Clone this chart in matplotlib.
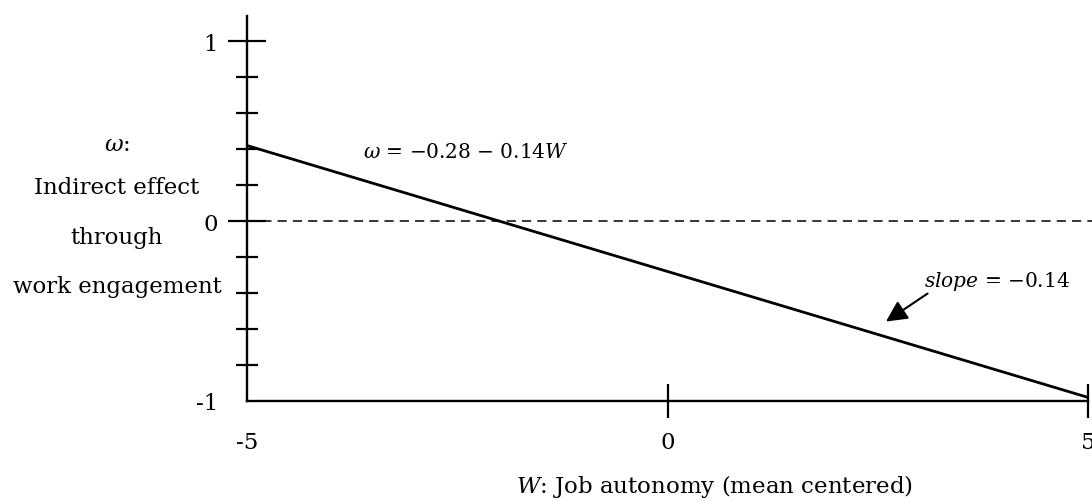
import matplotlib.pyplot as plt
import numpy as np

# simple slope data: omega = a + b*W
w_range = [-5, 5]
intercept = -0.28
slope = -0.14
omega = [intercept + slope * w for w in w_range]

y_major = [-1, 0, 1]
y_major_labels = ['-1', '0', '1']
y_minor = [-0.8, -0.6, -0.4, -0.2, 0.2, 0.4, 0.6, 0.8]
x_ticks = [-5, 0, 5]
x_tick_labels = ['-5', '0', '5']

arrow_head = (2.57, -0.567)
arrow_tail = (3.12, -0.394)

plt.rcParams['font.family'] = 'DejaVu Serif'
plt.rcParams['mathtext.fontset'] = 'dejavuserif'
fs = 16.5
fs_note = 14.5

fig = plt.figure(figsize=(10.92, 5.02), dpi=100)
ax = fig.add_axes([247 / 1092, 1 - 402 / 502, (1088 - 247) / 1092, 385 / 502])
ax.set_xlim(-5, 5)
ax.set_ylim(-1, 1.14)

ax.plot(w_range, omega, color='black', lw=2.0)
ax.plot([-5, 5.05], [0, 0], color='black', lw=1.1, ls=(0, (6, 4)), clip_on=False)

for s in ['top', 'right']:
    ax.spines[s].set_visible(False)
for s in ['left', 'bottom']:
    ax.spines[s].set_linewidth(1.7)

ax.set_yticks(y_major)
ax.set_yticklabels(y_major_labels, fontsize=fs)
ax.set_yticks(y_minor, minor=True)
ax.set_xticks(x_ticks)
ax.set_xticklabels(x_tick_labels, fontsize=fs)
ax.tick_params(axis='y', which='major', direction='inout', length=28, width=1.6, pad=7)
ax.tick_params(axis='y', which='minor', direction='inout', length=16, width=1.6)
ax.tick_params(axis='x', which='major', direction='inout', length=25, width=1.6, pad=9)
ax.xaxis.get_major_ticks()[0].tick1line.set_visible(False)
ax.yaxis.get_major_ticks()[0].tick1line.set_visible(False)

ax.text(-3.62, 0.385, '$\\omega$ = \u22120.28 \u2212 0.14$W$', fontsize=fs_note, va='center', ha='left')
ax.text(3.05, -0.33, '$slope$ = \u22120.14', fontsize=fs_note, va='center', ha='left')
ax.annotate('', xy=arrow_head, xytext=arrow_tail,
            arrowprops=dict(arrowstyle='-|>', color='black', lw=1.5, mutation_scale=32))

# y axis label, centered lines
for txt, ypix in [('$\\omega$:', 145), ('Indirect effect', 188), ('through', 238), ('work engagement', 287)]:
    fig.text(117 / 1092, 1 - ypix / 502, txt, fontsize=fs, ha='center', va='center')

fig.text(714 / 1092, 1 - 487 / 502, '$W$: Job autonomy (mean centered)', fontsize=fs, ha='center', va='center')

fig.savefig('out.png', dpi=100)
